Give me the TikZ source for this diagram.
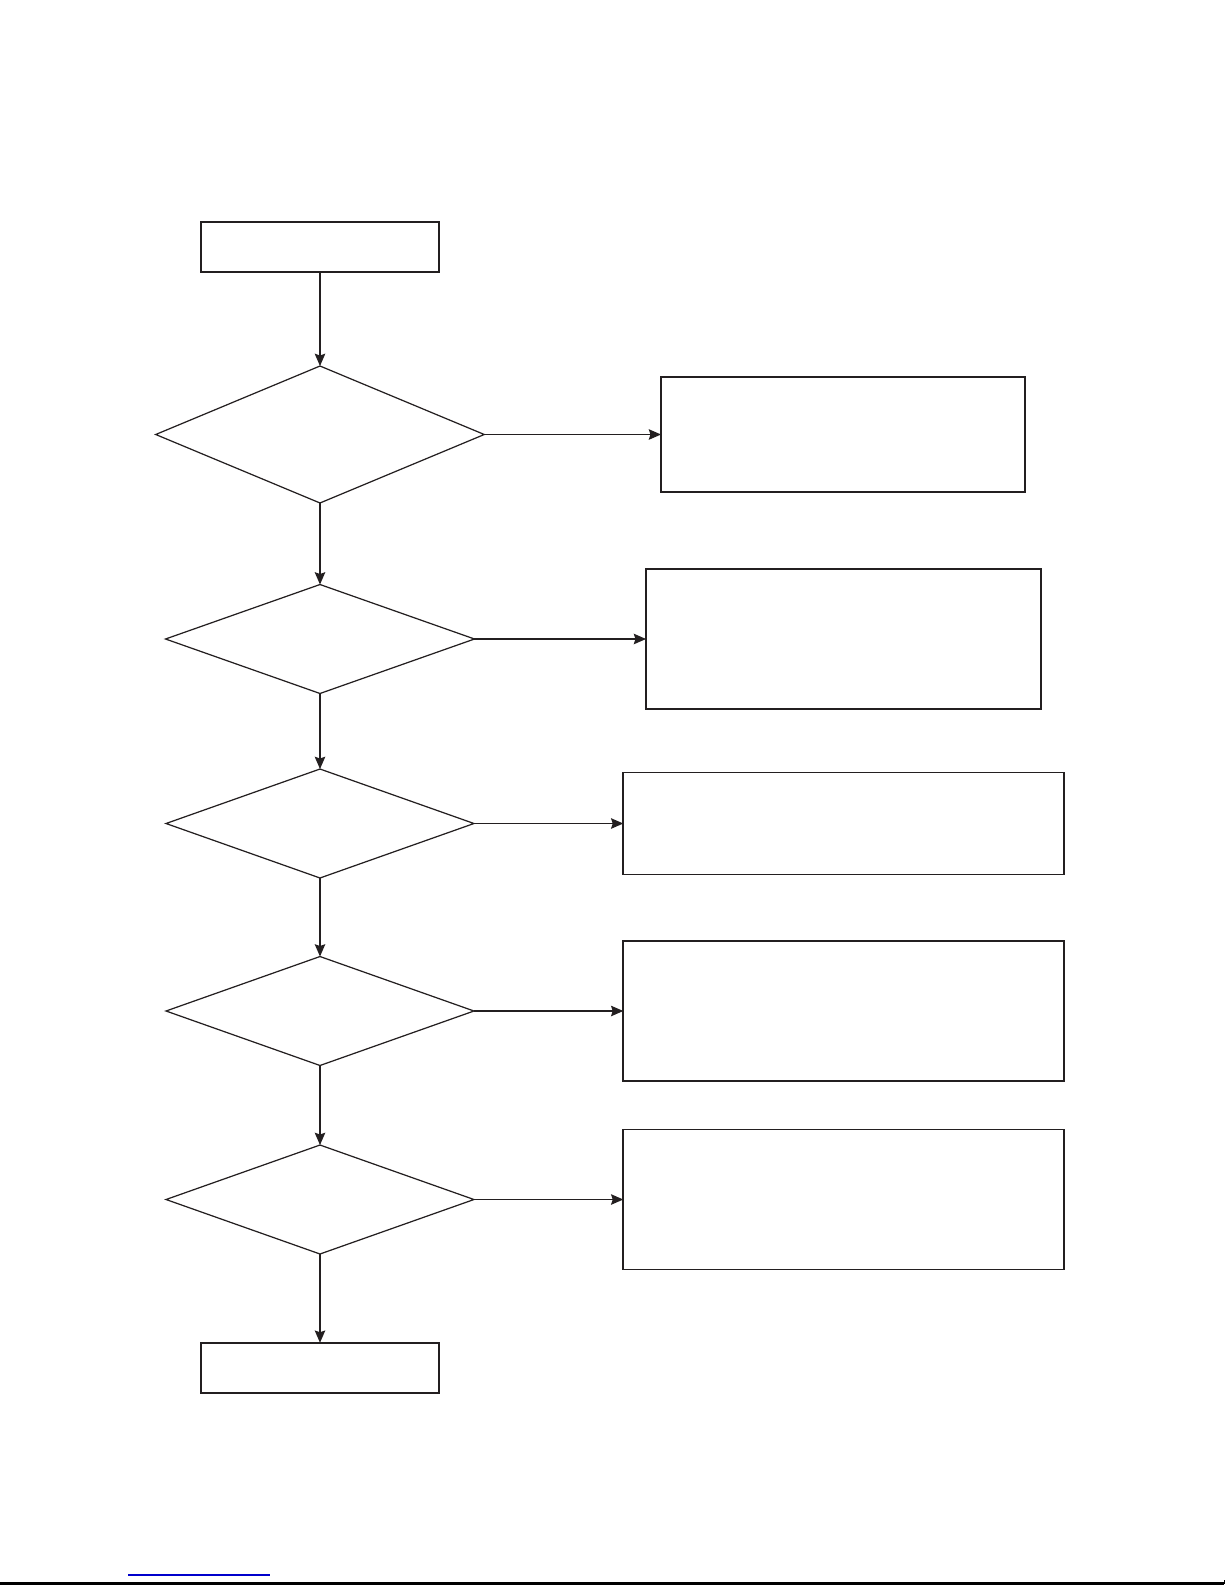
\documentclass[tikz,border=0pt]{standalone}
\usepackage{tikz}
\usetikzlibrary{arrows.meta,shapes.geometric}
\definecolor{linkblue}{RGB}{0,0,204}
\definecolor{ink}{RGB}{35,31,32}

\begin{document}
\begin{tikzpicture}[x=0.02cm, y=-0.02cm,
    box/.style={draw=ink, line width=1pt, inner sep=0pt, outer sep=0pt, rectangle},
    test/.style={draw=ink, line width=0.7pt, inner sep=0pt, outer sep=0pt, diamond,
        minimum width=6.16cm, minimum height=2.18cm},
    flow/.style={draw=ink, line width=0.7pt, -{Stealth[length=7pt, width=6pt, inset=1pt]}}]
    %% Background
    \useasboundingbox (0,0) rectangle (1225,1585);
    %% Figure
    \node[box, minimum width=4.772cm, minimum height=1cm] (start) at (320,246.7) {};
    \node[test, minimum width=6.572cm, minimum height=2.74cm] (check1) at (320,434.5) {};
    \node[test, minimum width=6.18cm] (check2) at (320,639) {};
    \node[test] (check3) at (320,823.5) {};
    \node[test] (check4) at (320,1011) {};
    \node[test] (check5) at (320,1199.5) {};
    \node[box, minimum width=4.772cm, minimum height=1.01cm] (finish) at (320,1368) {};
    \node[box, minimum width=7.28cm, minimum height=2.3cm] (fix1) at (843,434.5) {};
    \node[box, minimum width=7.9cm, minimum height=2.8cm] (fix2) at (843.5,639) {};
    \node[box, minimum width=8.81cm, minimum height=2.04cm] (fix3) at (843.5,823.5) {};
    \node[box, minimum width=8.81cm, minimum height=2.8cm] (fix4) at (843.5,1011) {};
    \node[box, minimum width=8.81cm, minimum height=2.8cm] (fix5) at (843.5,1199.5) {};
    %% Flow
    \draw[flow] (start) -- (check1);
    \draw[flow] (check1) -- (check2);
    \draw[flow] (check2) -- (check3);
    \draw[flow] (check3) -- (check4);
    \draw[flow] (check4) -- (check5);
    \draw[flow] (check5) -- (finish);
    \draw[flow] (check1.east) -- (check1.east -| fix1.west);
    \draw[flow] (check2.east) -- (check2.east -| fix2.west);
    \draw[flow] (check3.east) -- (check3.east -| fix3.west);
    \draw[flow] (check4.east) -- (check4.east -| fix4.west);
    \draw[flow] (check5.east) -- (check5.east -| fix5.west);
    %% Footer
    \draw[linkblue, line width=0.6pt] (128,1575) to (270,1575);
    \draw[line width=1.2pt] (0,1583.5) to (1224,1583.5);
    \draw[line width=0.5pt] (1224,1583.5) to (1224,1580);
\end{tikzpicture}
\end{document}
